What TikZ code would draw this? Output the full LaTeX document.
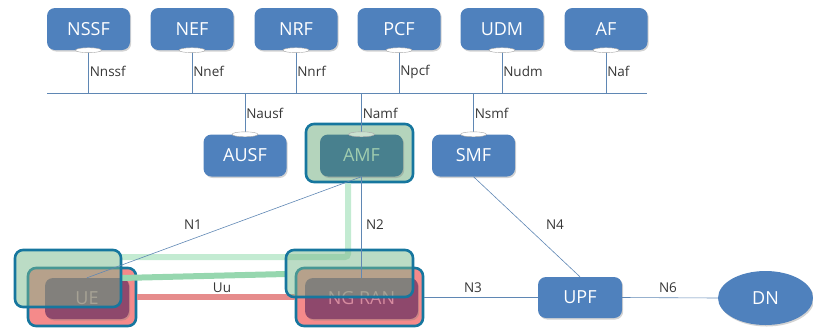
\documentclass[tikz,border=0pt]{standalone}
\usepackage{fontspec}
\setmainfont{Open Sans}
\usetikzlibrary{shadows,shapes.geometric}
\definecolor{nfblue}{RGB}{79,129,189}
\definecolor{linec}{RGB}{95,135,180}
\definecolor{labc}{RGB}{55,55,55}
\definecolor{tealb}{RGB}{22,118,158}
\definecolor{hlgreen}{RGB}{120,185,140}
\definecolor{amfout}{RGB}{180,212,188}
\definecolor{amfin}{RGB}{72,128,142}
\definecolor{amftxt}{RGB}{160,205,175}
\definecolor{pinkbg}{RGB}{245,138,138}
\definecolor{purp}{RGB}{142,72,108}
\definecolor{purptxt}{RGB}{215,140,160}
\definecolor{lgline}{RGB}{195,235,210}
\definecolor{dgline}{RGB}{150,215,175}
\definecolor{redline}{RGB}{230,140,140}
\tikzset{
  nf/.style={rounded corners=8pt, fill=nfblue, minimum width=83pt, minimum height=42pt,
    text=white, font=\fontsize{18}{20}\selectfont, inner sep=0pt,
    drop shadow={shadow xshift=1.2pt, shadow yshift=-1.5pt, opacity=0.35}},
  port/.style={ellipse, draw=gray!70, fill=white, line width=0.4pt, minimum width=26pt, minimum height=5pt, inner sep=0pt},
  conn/.style={draw=linec, line width=0.6pt},
  lab/.style={text=labc, font=\fontsize{13.5}{15}\selectfont, inner sep=1pt},
  hlbox/.style={draw=tealb, line width=2.6pt, rounded corners=8pt},
}
\begin{document}
\begin{tikzpicture}[x=1pt,y=-1pt]
\useasboundingbox (0,0) rectangle (813,330);
% bus
\coordinate (busL) at (47,93);
\coordinate (busR) at (647,93);
\draw[conn] (busL) -- (busR);
% top NFs
\foreach \nm/\tx/\x/\lb in {nssf/NSSF/88.5/Nnssf, nef/NEF/192/Nnef, nrf/NRF/296/Nnrf, pcf/PCF/399/Npcf, udm/UDM/502/Nudm, af/AF/606/Naf}{
  \node[nf] (\nm) at (\x,29) {\tx};
  \draw[conn] (\nm.south) -- (\nm.south |- busL) node[lab, anchor=west, pos=0.5] {\lb};
  \node[port] (\nm p) at (\nm.south) {};
}
% AMF highlight
\node[hlbox, fill=amfout, minimum width=107pt, minimum height=58pt] (amfhl) at (359.5,153) {};
% lower NFs
\node[nf] (ausf) at (245,155.5) {AUSF};
\node[nf, fill=amfin, text=amftxt] (amf) at (361.5,155.5) {AMF};
\node[nf] (smf) at (473.5,155.5) {SMF};
\draw[conn] (ausf.north) -- (ausf.north |- busL) node[lab, anchor=west, pos=0.5] {Nausf};
\draw[conn] (amf.north) -- (amf.north |- busL) node[lab, anchor=west, pos=0.5] {Namf};
\draw[conn] (smf.north) -- (smf.north |- busL) node[lab, anchor=west, pos=0.5] {Nsmf};
\node[port] (ausfp) at (ausf.north) {};
\node[port, fill=amfout!70!white] (amfp) at (amf.north) {};
\node[port] (smfp) at (smf.north) {};
% UE
\node[hlbox, fill=pinkbg, minimum width=108pt, minimum height=58pt] (uepink) at (82,297) {};
\node[nf, fill=purp, text=purptxt, minimum width=84pt, minimum height=41pt] (ue) at (87,298.5) {UE};
% NG RAN
\node[hlbox, fill=pinkbg, minimum width=127pt, minimum height=58pt] (ngpink) at (359.5,297) {};
\node[nf, fill=purp, text=purptxt, minimum width=113pt, minimum height=41pt] (ngran) at (361.5,298.5) {NG RAN};
% red Uu line
\draw[draw=redline, line width=6pt] (uepink.east |- 0,297) -- (ngpink.west |- 0,297);
\node[lab] (uu) at (222,288) {Uu};
% green highlight lines
\coordinate (gc) at (348,257);
\draw[draw=lgline, line width=6pt, rounded corners=3pt] (amfhl.south -| gc) -- (gc) -- (121,257);
\draw[draw=dgline, line width=6pt] (121,278) -- (286,274);
% green overlays
\node[hlbox, fill=hlgreen, fill opacity=0.5, minimum width=106pt, minimum height=57pt] (uegreen) at (68,278.5) {};
\node[hlbox, fill=hlgreen, fill opacity=0.5, minimum width=127pt, minimum height=47pt] (nggreen) at (349.5,273.5) {};
% connectors
\draw[conn] (amf.south) -- (ue.north);
\draw[conn] (amf.south) -- (amf.south |- ngran.north);
\node[lab] (n1) at (193,225) {N1};
\node[lab] (n2) at (375,225) {N2};
\node[nf, minimum width=84pt, minimum height=41pt] (upf) at (580,297.5) {UPF};
\node[ellipse, fill=nfblue, text=white, font=\fontsize{18}{20}\selectfont, minimum width=95pt, minimum height=54pt, inner sep=0pt,
  drop shadow={shadow xshift=1.2pt, shadow yshift=-1.5pt, opacity=0.35}] (dn) at (765.5,298) {DN};
\draw[conn] (upf.west) -- (upf.west -| ngpink.east);
\node[lab] (n3) at (473,288) {N3};
\draw[conn] (smf.south) -- (upf.north);
\node[lab] (n4) at (555,225) {N4};
\draw[conn] (upf.east) -- (dn.west);
\node[lab] (n6) at (668,288) {N6};
\end{tikzpicture}
\end{document}
